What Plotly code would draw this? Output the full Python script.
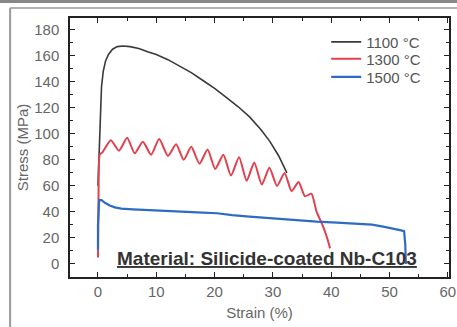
import plotly.graph_objects as go

# 1100 °C
strain_1100 = [0.0, 0.2, 0.4, 0.6, 0.9, 1.3, 1.8, 2.5, 3.3, 4.3, 5.5, 7.0, 8.5, 10.0, 12.0,
               14.0, 16.0, 18.0, 20.0, 22.0, 24.0, 26.0, 28.0, 29.5, 31.0, 32.4]
stress_1100 = [60, 90, 120, 136, 148, 156, 161, 165, 167, 167.5, 167, 165.5, 163, 161, 157,
               152, 147, 141, 135, 128, 121, 113, 103, 94, 83, 70]

# 1300 °C
strain_1300 = [0.0, 0.1, 0.3, 0.8, 2.2, 3.6, 5.0, 6.3, 7.7, 9.1, 10.5, 12.0, 13.4, 14.7,
               16.0, 17.4, 18.8, 20.1, 21.5, 22.8, 24.2, 25.5, 26.8, 28.1, 29.4, 30.7,
               32.0, 33.2, 34.4, 35.5, 36.6, 37.5, 38.5, 39.3, 39.8]
stress_1300 = [5, 55, 84, 86, 95, 87, 97, 85, 94, 84, 96, 83, 92, 80,
               90, 77, 88, 73, 84, 68, 82, 64, 78, 61, 74, 60,
               70, 56, 63, 52, 54, 40, 30, 20, 12]

# 1500 °C
strain_1500 = [0.0, 0.0, 0.2, 0.6, 1.2, 2.0, 2.9, 4.0, 6.0, 8.0, 10.0, 12.0, 15.0, 18.0,
               20.4, 23.0, 26.0, 30.0, 34.0, 37.5, 41.0, 44.4, 47.0, 48.9, 50.5, 51.8,
               52.5, 52.7, 52.8]
stress_1500 = [11, 30, 49, 49, 47, 45, 43.5, 42.5, 42, 41.5, 41, 40.5, 40, 39.5,
               39, 37.5, 36.4, 35, 33.8, 32.6, 31.8, 31, 30.2, 28.7, 27.5, 26,
               25.2, 15, 0]

labels = ["1100 °C", "1300 °C", "1500 °C"]
x_ticks = [0, 10, 20, 30, 40, 50, 60]
y_ticks = [0, 20, 40, 60, 80, 100, 120, 140, 160, 180]

fig = go.Figure()
fig.add_trace(go.Scatter(x=strain_1100, y=stress_1100, mode="lines", name=labels[0],
                         legend="legend", showlegend=True,
                         line=dict(color="#3a3a3a", width=1.6)))
fig.add_trace(go.Scatter(x=strain_1300, y=stress_1300, mode="lines", name=labels[1],
                         legend="legend2", showlegend=True,
                         line=dict(color="#e2404c", width=2, shape="spline", smoothing=0.6)))
fig.add_trace(go.Scatter(x=strain_1500, y=stress_1500, mode="lines", name=labels[2],
                         legend="legend3", showlegend=True,
                         line=dict(color="#2e6cc4", width=2.2)))

font_family = "Liberation Sans, Arial, sans-serif"
axis_common = dict(
    showline=True, linecolor="#222", linewidth=1.5, mirror="ticks",
    ticks="inside", ticklen=5, tickcolor="#222", tickwidth=1.2,
    showgrid=False, zeroline=False, automargin=False,
    tickfont=dict(family=font_family, size=15, color="#666"),
    minor=dict(ticks="inside", ticklen=3, tickcolor="#222", tickwidth=1),
)

leg_common = dict(x=0.676, xanchor="left", yanchor="middle", bgcolor="rgba(0,0,0,0)",
                  font=dict(family=font_family, size=15, color="#555"))

fig.update_layout(
    width=457, height=327,
    showlegend=True,
    margin=dict(l=70, r=8, t=18, b=50),
    paper_bgcolor="white", plot_bgcolor="white",
    font=dict(family=font_family, color="#555"),
    xaxis=dict(range=[-4.8, 60.2], tickvals=x_ticks, minor_dtick=5,
               title=dict(text="Strain (%)", font=dict(size=15, color="#666"), standoff=9),
               **axis_common),
    yaxis=dict(range=[-10, 189], tickvals=y_ticks, minor_dtick=10, ticklabelstandoff=6,
               title=dict(text="Stress (MPa)", font=dict(size=15, color="#666"), standoff=2),
               **axis_common),
    legend=dict(y=0.907, **leg_common),
    legend2=dict(y=0.842, **leg_common),
    legend3=dict(y=0.772, **leg_common),
    annotations=[dict(x=29, y=4.6, xref="x", yref="y", xanchor="center", yanchor="middle",
                      text="<b><u>Material: Silicide-coated Nb-C103</u></b>", showarrow=False,
                      font=dict(family=font_family, size=19, color="#333"))],
    shapes=[
        dict(type="rect", xref="paper", yref="paper", x0=-0.2, x1=1.03, y0=1.058, y1=1.075,
             fillcolor="#888", line=dict(width=0), layer="above"),
        dict(type="line", xref="paper", yref="paper", x0=-0.158, x1=1.03, y0=1.039, y1=1.039,
             line=dict(color="#999", width=1.5)),
        dict(type="line", xref="paper", yref="paper", x0=-0.158, x1=-0.158, y0=-0.2, y1=1.039,
             line=dict(color="#999", width=2)),
    ],
)

fig.write_html("out.html", post_script="document.body.style.margin='0';",
               config={"displayModeBar": False})
